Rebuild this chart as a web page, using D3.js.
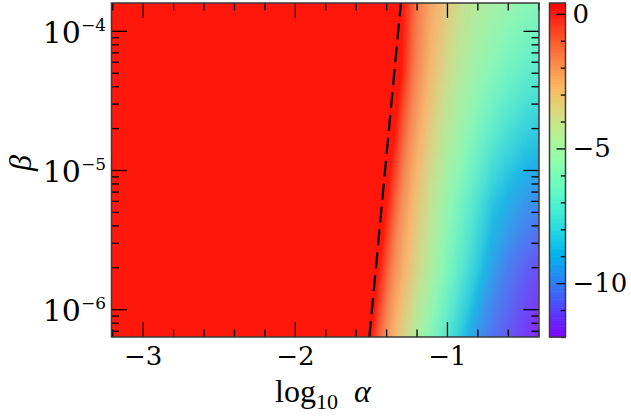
<!DOCTYPE html>
<html>
<head>
<meta charset="utf-8">
<script src="https://cdn.jsdelivr.net/npm/d3@7"></script>
<style>
  body { margin: 0; background: #fff; }
  svg { display: block; }
</style>
</head>
<body>
<svg id="chart" width="631" height="416"></svg>
<script>
// columns of the grid (log10 alpha) and rows (log10 beta, bottom to top)
const logAlpha = [-3.2, -1.6, -1.55, -1.5, -1.45, -1.4, -1.35, -1.3, -1.25, -1.2, -1.1, -1.0, -0.9, -0.8, -0.7, -0.6, -0.5, -0.4]
const logBeta = [-6.2, -5.72, -5.24, -4.76, -4.28, -3.8]

// values, one row per beta
const row1 = [0.1, 0.1, 0.1, 0.05, -0.9, -1.8, -2.6, -3.3, -4.0, -4.7, -6.0, -7.3, -8.5, -9.7, -10.4, -10.9, -11.4, -11.8]
const row2 = [0.1, 0.1, 0.1, 0.1, 0.05, -0.8, -1.7, -2.4, -3.0, -3.6, -4.8, -6.1, -7.3, -8.4, -9.5, -10.2, -10.7, -11.1]
const row3 = [0.1, 0.1, 0.1, 0.1, 0.1, 0.05, -0.8, -1.7, -2.4, -3.0, -4.2, -5.4, -6.5, -7.5, -8.5, -9.1, -9.6, -9.9]
const row4 = [0.1, 0.1, 0.1, 0.1, 0.1, 0.1, 0.05, -0.8, -1.6, -2.3, -3.5, -4.5, -5.4, -6.3, -7.1, -7.7, -8.2, -8.5]
const row5 = [0.1, 0.1, 0.1, 0.1, 0.1, 0.1, 0.1, 0.05, -0.8, -1.6, -2.8, -3.8, -4.6, -5.3, -5.9, -6.4, -6.8, -7.1]
const row6 = [0.1, 0.1, 0.1, 0.1, 0.1, 0.1, 0.1, 0.1, -0.5, -1.3, -2.4, -3.2, -4.0, -4.6, -5.0, -5.4, -5.7, -5.9]

// dashed boundary line
const dashLogAlpha = [-1.51, -1.303]
const dashLogBeta = [-6.2, -3.8]

// ticks
const xMajor = [-3, -2, -1]
const yExps = [-6, -5, -4]
const cbMajor = [0, -5, -10]

const zMin = -12.0, zMax = 0.4

const svg = d3.select("#chart")
const plot = {left: 111.5, right: 539, top: 3, bottom: 337}
const cbar = {left: 549.5, right: 565.5}

const xScale = d3.scaleLinear().domain([-3.205, -0.395]).range([plot.left, plot.right])
const yScale = d3.scaleLog().domain([10 ** -6.2, 10 ** -3.8]).range([plot.bottom, plot.top])
const cScale = d3.scaleLinear().domain([zMin, zMax]).range([plot.bottom, plot.top])

// matplotlib "rainbow"
function rainbow(v) {
    let t = Math.max(0, Math.min(1, (v - zMin) / (zMax - zMin)))
    let r = Math.min(1, Math.abs(2 * t - 0.5))
    let g = Math.sin(Math.PI * t)
    let b = Math.cos(Math.PI * t / 2)
    return d3.rgb(r * 255, g * 255, b * 255).toString()
}

// the many thin contour bands look a bit washed out in the field
function fieldColor(v) {
    let w = 0.16 * Math.min(1, Math.max(0, -v / 1.5))
    return d3.interpolateRgb(rainbow(v), "rgb(190,190,190)")(w)
}

// filled contours
const n = logAlpha.length, m = logBeta.length
const grid = [row1, row2, row3, row4, row5, row6].flat()
const levels = d3.range(-120, 1).map(k => k / 10)
const contours = d3.contours().size([n, m]).thresholds(levels)(grid)

const colIdx = d3.scaleLinear().domain(d3.range(n)).range(logAlpha).clamp(true)
const rowIdx = d3.scaleLinear().domain(d3.range(m)).range(logBeta).clamp(true)

const proj = d3.geoTransform({
    point: function (x, y) {
        this.stream.point(xScale(colIdx(x - 0.5)), yScale(10 ** rowIdx(y - 0.5)))
    }
})
const path = d3.geoPath(proj)

svg.append("g")
    .selectAll("path")
    .data(contours)
    .join("path")
    .attr("d", path)
    .attr("fill", d => fieldColor(d.value + 0.05))

// dashed line
const line = d3.line()
    .x(d => xScale(d[0]))
    .y(d => yScale(10 ** d[1]))
svg.append("path")
    .datum(d3.zip(dashLogAlpha, dashLogBeta))
    .attr("d", line)
    .attr("fill", "none")
    .attr("stroke", "#000")
    .attr("stroke-width", 2.2)
    .attr("stroke-dasharray", "16,7")

// axes
const xMinor = d3.range(-16, -1).filter(k => k % 5 != 0).map(k => k / 5)
const yMinor = []
for (let e of [-7, -6, -5]) {
    for (let k = 2; k <= 9; k++) {
        let v = k * 10 ** e
        if (v > 10 ** -6.2 && v < 10 ** -3.8) yMinor.push(v)
    }
}

function styleAxis(g) {
    g.select(".domain").remove()
    g.selectAll("line").attr("stroke", "#000").attr("stroke-width", 1.3)
    g.selectAll("text")
        .attr("fill", "#000")
        .style("font-family", "DejaVu Serif")
        .style("font-size", "26px")
}

svg.append("g").attr("transform", `translate(0,${plot.bottom})`)
    .call(d3.axisBottom(xScale).tickValues(xMajor).tickSize(-15).tickPadding(10).tickFormat(d3.format("d")))
    .call(styleAxis)
svg.append("g").attr("transform", `translate(0,${plot.bottom})`)
    .call(d3.axisBottom(xScale).tickValues(xMinor).tickSize(-7.5).tickFormat(""))
    .call(styleAxis)
svg.append("g").attr("transform", `translate(0,${plot.top})`)
    .call(d3.axisTop(xScale).tickValues(xMajor).tickSize(-15).tickFormat(""))
    .call(styleAxis)
svg.append("g").attr("transform", `translate(0,${plot.top})`)
    .call(d3.axisTop(xScale).tickValues(xMinor).tickSize(-7.5).tickFormat(""))
    .call(styleAxis)

const yMajor = yExps.map(e => 10 ** e)
svg.append("g").attr("transform", `translate(${plot.left},0)`)
    .call(d3.axisLeft(yScale).tickValues(yMajor).tickSize(-15.5).tickFormat(""))
    .call(styleAxis)
svg.append("g").attr("transform", `translate(${plot.left},0)`)
    .call(d3.axisLeft(yScale).tickValues(yMinor).tickSize(-7.5).tickFormat(""))
    .call(styleAxis)
svg.append("g").attr("transform", `translate(${plot.right},0)`)
    .call(d3.axisRight(yScale).tickValues(yMajor).tickSize(-15.5).tickFormat(""))
    .call(styleAxis)
svg.append("g").attr("transform", `translate(${plot.right},0)`)
    .call(d3.axisRight(yScale).tickValues(yMinor).tickSize(-7.5).tickFormat(""))
    .call(styleAxis)

// y tick labels 10^e
yExps.forEach(e => {
    let t = svg.append("text")
        .attr("x", 106)
        .attr("y", yScale(10 ** e) + 12)
        .attr("text-anchor", "end")
        .style("font-family", "DejaVu Serif")
        .style("font-size", "30px")
    t.append("tspan").text("10")
    t.append("tspan").attr("dy", -12).style("font-size", "17px").text("\u2212" + Math.abs(e))
})

// frame
svg.append("rect")
    .attr("x", plot.left).attr("y", plot.top)
    .attr("width", plot.right - plot.left).attr("height", plot.bottom - plot.top)
    .attr("fill", "none").attr("stroke", "#3a3a3a").attr("stroke-width", 1.5)

// colorbar
const bands = d3.range(-120, 4).map(k => k / 10)
svg.append("g")
    .selectAll("rect")
    .data(bands)
    .join("rect")
    .attr("x", cbar.left)
    .attr("width", cbar.right - cbar.left)
    .attr("y", d => cScale(Math.min(d + 0.1, zMax)))
    .attr("height", d => cScale(d) - cScale(Math.min(d + 0.1, zMax)) + 0.6)
    .attr("fill", d => rainbow(d + 0.05))

const cbMinor = d3.range(-12, 1).filter(d => d % 5 != 0)
svg.append("g").attr("transform", `translate(${cbar.right},0)`)
    .call(d3.axisRight(cScale).tickValues(cbMajor).tickSize(-9).tickPadding(7).tickFormat(d3.format("d")))
    .call(styleAxis)
svg.append("g").attr("transform", `translate(${cbar.right},0)`)
    .call(d3.axisRight(cScale).tickValues(cbMinor).tickSize(-4.7).tickFormat(""))
    .call(styleAxis)

svg.append("rect")
    .attr("x", cbar.left).attr("y", plot.top)
    .attr("width", cbar.right - cbar.left).attr("height", plot.bottom - plot.top)
    .attr("fill", "none").attr("stroke", "#3a3a3a").attr("stroke-width", 1.5)

// axis labels
let xl = svg.append("text")
    .attr("x", 275)
    .attr("y", 402)
    .style("font-family", "Liberation Serif")
    .style("font-size", "32px")
xl.append("tspan").text("log")
xl.append("tspan").attr("dy", 7).style("font-size", "22px").text("10")
xl.append("tspan").attr("x", 354).attr("dy", -7).style("font-style", "italic").text("α")

svg.append("text")
    .attr("transform", "translate(31,163) rotate(-90)")
    .attr("text-anchor", "middle")
    .style("font-family", "Liberation Serif")
    .style("font-style", "italic")
    .style("font-size", "32px")
    .text("β")
</script>
</body>
</html>
